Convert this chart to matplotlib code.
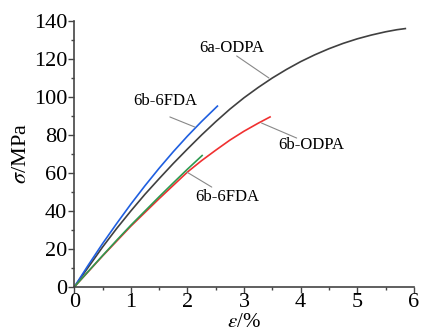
import numpy as np
import matplotlib
matplotlib.use("Agg")
import matplotlib.pyplot as plt
from matplotlib.ticker import MultipleLocator

plt.rcParams['font.family'] = ['Liberation Serif', 'DejaVu Serif']
plt.rcParams['mathtext.fontset'] = 'stix'

# strain (%) / stress (MPa)
x_6a_odpa = [0, 0.25, 0.5, 0.75, 1, 1.25, 1.5, 1.75, 2, 2.25, 2.5, 2.75, 3, 3.25, 3.5,
             3.75, 4, 4.25, 4.5, 4.75, 5, 5.25, 5.5, 5.7, 5.85]
y_6a_odpa = [0, 10.5, 21, 30.8, 40, 48.8, 57, 65, 72.6, 80, 87, 93.6, 99.6, 105, 110,
             114.5, 118.6, 122.2, 125.4, 128.2, 130.6, 132.6, 134.3, 135.4, 136]

x_6b_6fda_a = [0, 0.25, 0.5, 0.75, 1, 1.25, 1.5, 1.75, 2, 2.25, 2.53]
y_6b_6fda_a = [0, 11.6, 22.8, 33.4, 43.6, 53.3, 62.5, 71.2, 79.4, 87.1, 95.2]

x_6b_odpa = [0, 0.5, 1, 1.5, 2, 2.25, 2.5, 2.75, 3, 3.25, 3.46]
y_6b_odpa = [0, 16.3, 32, 46.5, 60.5, 66.5, 72, 77.3, 82, 86.2, 89.5]

x_6b_6fda_b = [0, 0.25, 0.5, 0.75, 1, 1.25, 1.5, 1.75, 2, 2.26]
y_6b_6fda_b = [0, 8.3, 16.5, 24.6, 32.5, 40, 47.5, 54.8, 62, 69.2]

labels = ['6a-ODPA', '6b-6FDA', '6b-ODPA', '6b-6FDA']
label_pos = [(2.79, 126), (1.6, 98), (4.18, 74.5), (2.7, 47.5)]
leader_start = [(2.87, 121.6), (1.69, 89.5), (3.93, 78.4), (2.43, 52.6)]
leader_end = [(3.44, 110), (2.13, 84.2), (3.31, 86.3), (1.99, 60.5)]

fig = plt.figure(figsize=(4.24, 3.33), dpi=100)
ax = fig.add_axes([0.175, 0.138, 0.801, 0.799])

ax.plot(x_6a_odpa, y_6a_odpa, color='#404040', lw=1.2)
ax.plot(x_6b_6fda_a, y_6b_6fda_a, color='#1f5fe0', lw=1.2)
ax.plot(x_6b_odpa, y_6b_odpa, color='#f03030', lw=1.2)
ax.plot(x_6b_6fda_b, y_6b_6fda_b, color='#2e9a50', lw=1.2)

ax.set_xlim(0, 6)
ax.set_ylim(0, 140)
ax.xaxis.set_major_locator(MultipleLocator(1))
ax.xaxis.set_minor_locator(MultipleLocator(0.5))
ax.yaxis.set_major_locator(MultipleLocator(20))
ax.yaxis.set_minor_locator(MultipleLocator(10))
for s in ['top', 'right']:
    ax.spines[s].set_visible(False)
for s in ['left', 'bottom']:
    ax.spines[s].set_color('#444444')
    ax.spines[s].set_linewidth(1.2)
ax.tick_params(which='major', direction='out', length=4, width=1, colors='#444444', labelsize=16, labelcolor='black', pad=1)
ax.tick_params(axis='x', which='major', pad=0)
ax.tick_params(which='minor', direction='out', length=2.5, width=1, colors='#444444')

ax.set_ylabel(r'$\sigma$/MPa', fontsize=16, labelpad=2)
ax.set_xlabel(r'$\varepsilon$/%', fontsize=15, labelpad=1)

arrow = dict(arrowstyle='-', color='#888888', lw=0.8, shrinkA=0, shrinkB=0)
for lab, pos, p0, p1 in zip(labels, label_pos, leader_start, leader_end):
    ax.text(pos[0], pos[1], lab, fontsize=12, ha='center', va='center')
    ax.annotate('', xy=p1, xytext=p0, arrowprops=arrow)

fig.savefig('out.png', dpi=100)
